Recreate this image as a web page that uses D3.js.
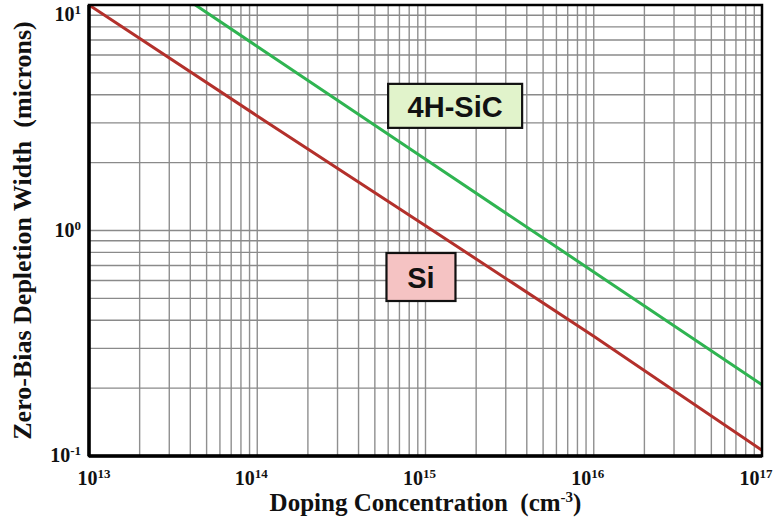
<!DOCTYPE html>
<html>
<head>
<meta charset="utf-8">
<script src="https://cdn.jsdelivr.net/npm/d3@7"></script>
<style>
  html, body { margin: 0; padding: 0; background: #fff; }
  svg { display: block; }
  .tick-label { font-family: "Liberation Serif", "Times New Roman", serif; font-weight: bold; fill: #111; }
  .axis-title { font-family: "Liberation Serif", "Times New Roman", serif; font-weight: bold; fill: #111; }
  .tag { font-family: "Liberation Sans", Arial, sans-serif; font-weight: bold; fill: #111; }
</style>
</head>
<body>
<svg id="chart" width="782" height="525"></svg>
<script>
// Doping concentration (cm^-3) sample points, one per decade
const doping = [1e13, 1e14, 1e15, 1e16, 1e17];
// Zero-bias depletion width (microns)
const siWidth = [10.0, 3.22, 1.05, 0.34, 0.106];
const sicWidth = [20.7, 6.55, 2.07, 0.655, 0.207];

const xTickExponents = [13, 14, 15, 16, 17];
const yTickExponents = [-1, 0, 1];

const seriesNames = ["Si", "4H-SiC"];
const seriesColors = ["#b3302b", "#2fb451"];
const tagFills = ["#f5c3c3", "#e1f3cb"];

const W = 782, H = 525;
const margin = { left: 89, right: 20, top: 5, bottom: 69 };
const plotW = W - margin.left - margin.right;
const plotH = H - margin.top - margin.bottom;

const svg = d3.select("#chart");
const g = svg.append("g").attr("transform", `translate(${margin.left},${margin.top})`);

const x = d3.scaleLog().domain([1e13, 1e17]).range([0, plotW]);
const y = d3.scaleLog().domain([0.1, 10]).range([plotH, 0]);

// Log grid: every 1..9 multiple inside each decade
const xGrid = [];
for (let e = 13; e < 17; e++) for (let m = 1; m <= 9; m++) xGrid.push(m * Math.pow(10, e));
const yGrid = [];
for (let e = -1; e < 1; e++) for (let m = 1; m <= 9; m++) yGrid.push(m * Math.pow(10, e));

g.append("g").selectAll("line").data(xGrid).join("line")
  .attr("x1", d => x(d)).attr("x2", d => x(d))
  .attr("y1", 0).attr("y2", plotH)
  .attr("stroke", "#8f8f8f").attr("stroke-width", 1.4);

g.append("g").selectAll("line").data(yGrid).join("line")
  .attr("x1", 0).attr("x2", plotW)
  .attr("y1", d => y(d)).attr("y2", d => y(d))
  .attr("stroke", "#8a8a8a").attr("stroke-width", 1.4);

// Clip so curves stay inside the frame
g.append("clipPath").attr("id", "plot-clip")
  .append("rect").attr("width", plotW).attr("height", plotH);

const line = d3.line().x(d => x(d[0])).y(d => y(d[1]));
const series = [siWidth, sicWidth];
series.forEach((vals, i) => {
  g.append("path")
    .datum(doping.map((n, k) => [n, vals[k]]))
    .attr("clip-path", "url(#plot-clip)")
    .attr("fill", "none")
    .attr("stroke", seriesColors[i])
    .attr("stroke-width", 3)
    .attr("d", line);
});

// Frame
g.append("rect")
  .attr("width", plotW).attr("height", plotH)
  .attr("fill", "none").attr("stroke", "#000").attr("stroke-width", 2.5);
g.append("line").attr("x1", 0).attr("x2", 0).attr("y1", 0).attr("y2", plotH)
  .attr("stroke", "#000").attr("stroke-width", 3.5);
g.append("line").attr("x1", 0).attr("x2", plotW).attr("y1", plotH).attr("y2", plotH)
  .attr("stroke", "#000").attr("stroke-width", 3.5);

// X tick labels (10^n)
xTickExponents.forEach((e, i) => {
  const t = g.append("text").attr("class", "tick-label")
    .attr("x", x(Math.pow(10, e)) + (i === 0 ? 5 : -6))
    .attr("y", plotH + 29)
    .attr("text-anchor", "middle")
    .style("font-size", "20px");
  t.append("tspan").text("10");
  t.append("tspan").attr("dy", -7).style("font-size", "13px").text(String(e));
});

// Y tick labels
yTickExponents.forEach(e => {
  const yy = Math.max(y(Math.pow(10, e)), 10);
  const t = g.append("text").attr("class", "tick-label")
    .attr("x", -8)
    .attr("y", yy + 6)
    .attr("text-anchor", "end")
    .style("font-size", "20px");
  t.append("tspan").text("10");
  t.append("tspan").attr("dy", -7).style("font-size", "13px").text(String(e));
});

// Axis titles
const xt = svg.append("text").attr("class", "axis-title")
  .attr("x", margin.left + plotW / 2).attr("y", 511)
  .attr("text-anchor", "middle")
  .style("font-size", "25px");
xt.append("tspan").text("Doping Concentration\u00a0\u00a0(cm");
xt.append("tspan").attr("dy", -9).style("font-size", "15px").text("-3");
xt.append("tspan").attr("dy", 9).text(")");

svg.append("text").attr("class", "axis-title")
  .attr("transform", `translate(31,${margin.top + plotH / 2}) rotate(-90)`)
  .attr("text-anchor", "middle")
  .style("font-size", "26px")
  .text("Zero-Bias Depletion Width\u00a0\u00a0(microns)");

// Series tags
const tags = [
  { name: seriesNames[0], at: [9.4e14, 0.622], w: 69, h: 48, fs: 29 },
  { name: seriesNames[1], at: [1.5e15, 3.57], w: 134, h: 44, fs: 29 }
];
tags.forEach((t, i) => {
  const cx = x(t.at[0]), cy = y(t.at[1]);
  g.append("rect")
    .attr("x", cx - t.w / 2).attr("y", cy - t.h / 2)
    .attr("width", t.w).attr("height", t.h)
    .attr("fill", tagFills[i]).attr("stroke", "#111").attr("stroke-width", 2.2);
  g.append("text").attr("class", "tag")
    .attr("x", cx).attr("y", cy + 1)
    .attr("text-anchor", "middle").attr("dominant-baseline", "central")
    .style("font-size", t.fs + "px")
    .text(t.name);
});
</script>
</body>
</html>
